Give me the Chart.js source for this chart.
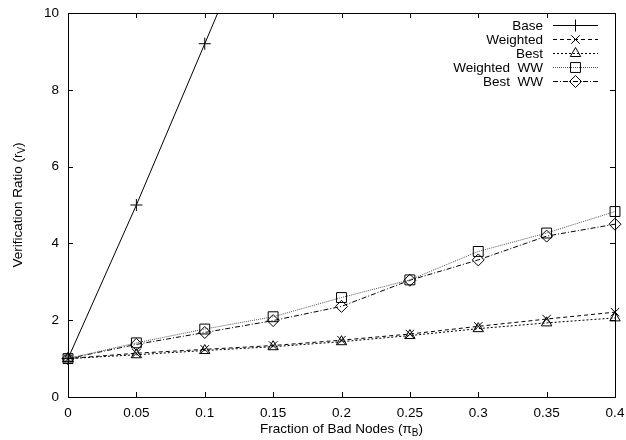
<!DOCTYPE html>
<html>
<head>
<meta charset="utf-8">
<script src="https://cdn.jsdelivr.net/npm/chart.js@4"></script>
<style>
  html, body { margin: 0; padding: 0; background: #fff; }
  #wrap { width: 626px; height: 440px; position: relative; }
</style>
</head>
<body>
<div id="wrap"><canvas id="c" width="626" height="440"></canvas></div>
<script>
// ---- data ----
const fractions = [0, 0.05, 0.1, 0.15, 0.2, 0.25, 0.3, 0.35, 0.4];
const xTickLabels = ['0', '0.05', '0.1', '0.15', '0.2', '0.25', '0.3', '0.35', '0.4'];
const yTickLabels = ['0', '2', '4', '6', '8', '10'];
const seriesNames = ['Base', 'Weighted', 'Best', 'Weighted  WW', 'Best  WW'];
const baseVals = [1, 5, 9.2, 13.4];
const weightedVals = [1, 1.14, 1.24, 1.34, 1.48, 1.64, 1.84, 2.03, 2.21];
const bestVals = [1, 1.1, 1.21, 1.31, 1.44, 1.6, 1.78, 1.93, 2.06];
const weightedWWVals = [1, 1.41, 1.77, 2.09, 2.59, 3.05, 3.79, 4.27, 4.83];
const bestWWVals = [1, 1.37, 1.68, 1.99, 2.36, 3.04, 3.57, 4.19, 4.5];

const FONT = '"Liberation Sans", Arial, Helvetica, sans-serif';

function pts(vals) { return vals.map((v, i) => ({ x: fractions[i], y: v })); }

const styles = [
  { dash: [], color: '#000', marker: 'cross', r: 6 },
  { dash: [4, 3], color: '#000', marker: 'crossRot', r: 6 },
  { dash: [2, 2], color: '#000', marker: 'triangle', r: 6 },
  { dash: [1, 1], color: '#555', marker: 'rect', r: 7 },
  { dash: [5, 2, 1, 2], color: '#000', marker: 'rectRot', r: 6 }
];
const allVals = [baseVals, weightedVals, bestVals, weightedWWVals, bestWWVals];

const datasets = allVals.map((vals, i) => ({
  label: seriesNames[i],
  data: pts(vals),
  borderColor: styles[i].color,
  borderWidth: 1,
  borderDash: styles[i].dash,
  pointStyle: styles[i].marker,
  pointRadius: styles[i].r,
  pointBorderColor: '#000',
  pointBackgroundColor: 'rgba(0,0,0,0)',
  pointBorderWidth: 1,
  fill: false,
  tension: 0,
  clip: { left: 12, right: 12, top: 0, bottom: 12 }
}));

const framePlugin = {
  id: 'frame',
  afterDraw(chart) {
    const ctx = chart.ctx;
    const a = chart.chartArea;
    const xs = chart.scales.x, ys = chart.scales.y;
    ctx.save();
    ctx.strokeStyle = '#000';
    ctx.lineWidth = 1;
    ctx.setLineDash([]);
    ctx.strokeRect(Math.round(a.left) + 0.5, Math.round(a.top) + 0.5,
                   Math.round(a.right - a.left), Math.round(a.bottom - a.top));
    const tl = 5;
    ctx.beginPath();
    fractions.forEach(f => {
      const px = Math.round(xs.getPixelForValue(f)) + 0.5;
      ctx.moveTo(px, a.bottom); ctx.lineTo(px, a.bottom - tl);
      ctx.moveTo(px, a.top); ctx.lineTo(px, a.top + tl);
    });
    yTickLabels.forEach(t => {
      const py = Math.round(ys.getPixelForValue(Number(t))) + 0.5;
      ctx.moveTo(a.left, py); ctx.lineTo(a.left + tl, py);
      ctx.moveTo(a.right, py); ctx.lineTo(a.right - tl, py);
    });
    ctx.stroke();

    // axis titles with subscripts
    ctx.fillStyle = '#000';
    const fs = 13.5, sfs = 10;
    const xMain = 'Fraction of Bad Nodes (\u03C0', xSub = 'B', xEnd = ')';
    ctx.font = fs + 'px ' + FONT;
    const w1 = ctx.measureText(xMain).width;
    const w3 = ctx.measureText(xEnd).width;
    ctx.font = sfs + 'px ' + FONT;
    const w2 = ctx.measureText(xSub).width;
    let cx = (a.left + a.right) / 2 - (w1 + w2 + w3) / 2;
    const by = 433;
    ctx.textBaseline = 'alphabetic';
    ctx.textAlign = 'left';
    ctx.font = fs + 'px ' + FONT;
    ctx.fillText(xMain, cx, by);
    ctx.font = sfs + 'px ' + FONT;
    ctx.fillText(xSub, cx + w1, by + 3);
    ctx.font = fs + 'px ' + FONT;
    ctx.fillText(xEnd, cx + w1 + w2, by);

    const yMain = 'Verification Ratio (r', ySub = 'V', yEnd = ')';
    ctx.font = fs + 'px ' + FONT;
    const v1 = ctx.measureText(yMain).width;
    const v3 = ctx.measureText(yEnd).width;
    ctx.font = sfs + 'px ' + FONT;
    const v2 = ctx.measureText(ySub).width;
    ctx.translate(22, (a.top + a.bottom) / 2);
    ctx.rotate(-Math.PI / 2);
    let sx = -(v1 + v2 + v3) / 2;
    ctx.font = fs + 'px ' + FONT;
    ctx.fillText(yMain, sx, 0);
    ctx.font = sfs + 'px ' + FONT;
    ctx.fillText(ySub, sx + v1, 3);
    ctx.font = fs + 'px ' + FONT;
    ctx.fillText(yEnd, sx + v1 + v2, 0);
    ctx.restore();

    // legend
    ctx.save();
    ctx.font = fs + 'px ' + FONT;
    ctx.textAlign = 'right';
    ctx.textBaseline = 'middle';
    seriesNames.forEach((name, i) => {
      const y = 25 + 14 * i;
      ctx.fillStyle = '#000';
      ctx.fillText(name, 543, y + 1);
      ctx.strokeStyle = styles[i].color;
      ctx.lineWidth = 1;
      ctx.setLineDash(styles[i].dash);
      ctx.beginPath();
      ctx.moveTo(553, y + 0.5); ctx.lineTo(598, y + 0.5);
      ctx.stroke();
      ctx.setLineDash([]);
      ctx.strokeStyle = '#000';
      ctx.fillStyle = 'rgba(0,0,0,0)';
      Chart.helpers.drawPoint(ctx, { pointStyle: styles[i].marker, radius: styles[i].r, rotation: 0, borderWidth: 1 }, 575.5, y + 0.5);
    });
    ctx.restore();
  }
};

new Chart(document.getElementById('c'), {
  type: 'line',
  data: { datasets },
  options: {
    responsive: false,
    animation: false,
    devicePixelRatio: 1,
    layout: { padding: { top: 13, right: 11, left: 0, bottom: 0 } },
    plugins: { legend: { display: false }, tooltip: { enabled: false } },
    scales: {
      x: {
        type: 'linear', min: 0, max: 0.4,
        grid: { display: false, drawTicks: false },
        border: { display: false },
        afterBuildTicks(scale) { scale.ticks = fractions.map(v => ({ value: v })); },
        ticks: {
          color: '#000', padding: 8, maxRotation: 0, autoSkip: false,
          font: { family: FONT, size: 13.5 },
          callback: (v, i) => xTickLabels[i]
        },
        afterFit(scale) { scale.height = 43; scale.paddingLeft = 0; scale.paddingRight = 0; }
      },
      y: {
        type: 'linear', min: 0, max: 10,
        grid: { display: false, drawTicks: false },
        border: { display: false },
        afterBuildTicks(scale) { scale.ticks = yTickLabels.map(t => ({ value: Number(t) })); },
        ticks: {
          color: '#000', padding: 9,
          font: { family: FONT, size: 13.5 },
          callback: (v, i) => yTickLabels[i]
        },
        afterFit(scale) { scale.width = 68; scale.paddingTop = 0; scale.paddingBottom = 0; }
      }
    }
  },
  plugins: [framePlugin]
});
</script>
</body>
</html>
